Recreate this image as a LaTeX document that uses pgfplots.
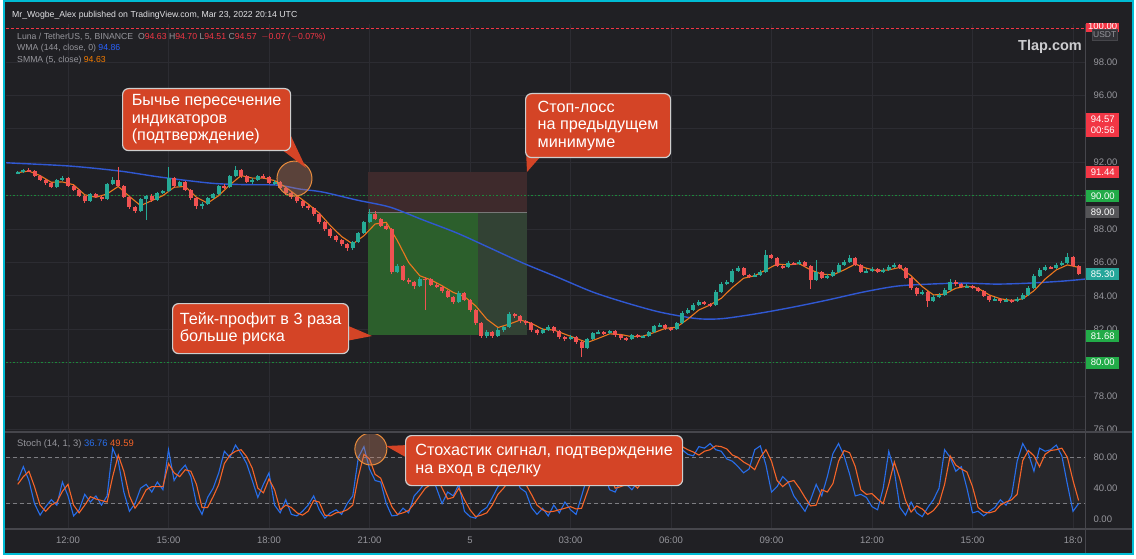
\documentclass[border=0pt]{standalone}
\usepackage{pgfplots}
\pgfplotsset{compat=1.18}
\usepackage{pgfplotstable}
\usepackage{fontspec}
\setmainfont{Liberation Sans}
\pgfplotsset{/pgf/number format/assume math mode=true}
\definecolor{bg}{RGB}{32,32,36}
\definecolor{framec}{RGB}{0,188,212}
\definecolor{gridc}{RGB}{44,44,50}
\definecolor{sepc}{RGB}{70,70,76}
\definecolor{lblc}{RGB}{150,150,156}
\definecolor{headc}{RGB}{225,225,228}
\definecolor{upc}{RGB}{38,170,150}
\definecolor{dnc}{RGB}{240,82,82}
\definecolor{wmac}{RGB}{48,88,210}
\definecolor{smmac}{RGB}{236,120,30}
\definecolor{kc}{RGB}{40,110,235}
\definecolor{dc}{RGB}{245,100,40}
\definecolor{callc}{RGB}{212,68,38}
\definecolor{callb}{RGB}{205,205,205}
\definecolor{tvred}{RGB}{242,54,69}
\definecolor{tvgreen}{RGB}{34,171,72}
\definecolor{tvteal}{RGB}{38,166,154}
\definecolor{tvgray}{RGB}{85,85,88}
\definecolor{legblue}{RGB}{41,98,255}
\definecolor{legor}{RGB}{245,124,0}
\definecolor{circc}{RGB}{232,140,60}
\definecolor{circf}{RGB}{200,130,100}
\definecolor{slbox}{RGB}{62,42,44}
\definecolor{tpbox}{RGB}{44,95,44}
\definecolor{tpbox2}{RGB}{50,66,52}

\pgfplotstableread{
i o c h l
0 91.35 91.41 91.50 91.28
1 91.41 91.53 91.62 91.36
2 91.53 91.47 91.68 91.40
3 91.47 91.17 91.52 91.10
4 91.17 90.93 91.25 90.85
5 90.93 90.75 91.00 90.66
6 90.75 90.51 90.82 90.44
7 90.51 90.93 91.02 90.46
8 90.93 91.05 91.15 90.88
9 91.05 90.57 91.10 90.50
10 90.57 90.33 90.65 90.25
11 90.33 89.97 90.40 89.90
12 89.97 89.67 90.05 89.58
13 89.67 90.09 90.18 89.60
14 90.09 89.91 90.16 89.84
15 89.91 89.79 90.00 89.70
16 89.79 90.69 90.78 89.74
17 90.69 90.93 91.10 90.62
18 90.93 90.57 91.70 90.50
19 90.57 89.91 90.64 89.85
20 89.91 89.31 89.98 89.22
21 89.31 89.08 89.40 88.98
22 89.08 89.79 89.88 89.00
23 89.79 89.97 90.06 88.55
24 89.97 89.73 90.10 89.62
25 89.73 90.15 90.24 89.66
26 90.15 90.27 90.36 90.08
27 90.27 91.05 91.72 90.20
28 91.05 90.57 91.12 90.48
29 90.57 90.81 90.90 90.50
30 90.81 90.33 90.88 90.26
31 90.33 89.85 90.40 89.76
32 89.85 89.37 89.92 89.20
33 89.37 89.49 89.60 89.22
34 89.49 89.85 89.94 89.42
35 89.85 90.09 90.18 89.78
36 90.09 90.57 90.66 90.02
37 90.57 90.50 90.70 90.40
38 90.50 91.17 91.26 90.44
39 91.17 91.53 91.80 91.10
40 91.53 91.17 91.60 91.08
41 91.17 90.81 91.24 90.74
42 90.81 90.93 91.04 90.72
43 90.93 91.17 91.26 90.86
44 91.17 91.11 91.30 91.02
45 91.11 90.75 91.18 90.68
46 90.75 90.81 90.92 90.66
47 90.81 90.45 90.88 90.38
48 90.45 90.15 90.52 90.06
49 90.15 89.91 90.22 89.82
50 89.91 89.67 89.98 89.58
51 89.67 89.37 89.74 89.28
52 89.37 89.25 89.46 89.14
53 89.25 88.90 89.32 88.80
54 88.90 88.42 88.96 88.32
55 88.42 88.00 88.50 87.90
56 88.00 87.58 88.08 87.48
57 87.58 87.34 87.66 87.22
58 87.34 87.10 87.42 86.96
59 87.10 86.86 87.18 86.70
60 86.86 87.22 87.30 86.76
61 87.22 87.76 87.84 87.14
62 87.76 88.42 88.50 87.70
63 88.42 88.90 89.20 88.34
64 88.90 88.60 89.10 88.52
65 88.60 88.18 88.68 88.10
66 88.18 88.00 88.30 87.92
67 88.00 85.42 88.08 85.30
68 85.42 85.78 85.90 85.34
69 85.78 84.94 85.84 84.86
70 84.94 84.82 85.04 84.70
71 84.82 84.58 84.90 84.40
72 84.58 85.00 85.10 84.50
73 85.00 84.98 85.12 83.14
74 84.98 84.64 85.06 84.56
75 84.64 84.52 84.74 84.44
76 84.52 84.28 84.60 84.18
77 84.28 83.92 84.36 83.84
78 83.92 83.62 84.00 83.52
79 83.62 84.16 84.26 83.56
80 84.16 83.74 84.22 83.66
81 83.74 83.14 83.80 83.04
82 83.14 82.36 83.20 82.26
83 82.36 81.59 82.42 81.45
84 81.59 81.83 81.94 81.50
85 81.83 81.59 81.90 81.48
86 81.59 81.94 82.04 81.52
87 81.94 82.12 82.22 81.86
88 82.12 82.90 83.00 82.05
89 82.90 82.78 82.98 82.68
90 82.78 82.48 82.84 82.40
91 82.48 82.36 82.56 82.26
92 82.36 81.94 82.42 81.86
93 81.94 81.77 82.02 81.68
94 81.77 81.94 82.04 81.70
95 81.94 82.12 82.22 81.88
96 82.12 81.88 82.18 81.80
97 81.88 81.53 81.94 81.44
98 81.53 81.41 81.60 81.30
99 81.41 81.53 81.64 81.34
100 81.53 81.23 81.60 81.14
101 81.23 80.87 81.30 80.34
102 80.87 81.41 81.50 80.80
103 81.41 81.77 81.86 81.34
104 81.77 81.83 81.96 81.70
105 81.83 81.77 81.92 81.68
106 81.77 81.88 81.98 81.70
107 81.88 81.65 81.94 81.56
108 81.65 81.47 81.72 81.38
109 81.47 81.41 81.56 81.30
110 81.41 81.65 81.74 81.36
111 81.65 81.53 81.72 81.46
112 81.53 81.59 81.68 81.46
113 81.59 81.83 81.92 81.52
114 81.83 82.18 82.28 81.76
115 82.18 82.24 82.36 82.10
116 82.24 82.06 82.32 81.98
117 82.06 82.00 82.14 81.90
118 82.00 82.36 82.46 81.94
119 82.36 82.96 83.06 82.30
120 82.96 83.14 83.24 82.88
121 83.14 83.44 83.54 83.06
122 83.44 83.62 83.72 83.36
123 83.62 83.50 83.70 83.42
124 83.50 83.44 83.58 83.34
125 83.44 84.22 84.32 83.38
126 84.22 84.70 84.80 84.14
127 84.70 84.82 84.94 84.62
128 84.82 85.48 85.58 84.76
129 85.48 85.66 85.76 85.40
130 85.66 85.24 85.72 85.16
131 85.24 85.18 85.32 85.08
132 85.18 85.24 85.34 85.10
133 85.24 85.42 85.52 85.16
134 85.42 86.44 86.74 85.36
135 86.44 86.26 86.52 86.18
136 86.26 85.78 86.32 85.70
137 85.78 85.72 85.86 85.62
138 85.72 85.96 86.06 85.66
139 85.96 85.90 86.04 85.82
140 85.90 86.02 86.12 85.84
141 86.02 85.78 86.08 85.70
142 85.78 84.94 85.84 84.40
143 84.94 85.42 86.14 84.88
144 85.42 85.06 85.50 84.98
145 85.06 85.18 85.28 84.98
146 85.18 85.42 85.52 85.10
147 85.42 85.84 85.94 85.36
148 85.84 86.02 86.12 85.76
149 86.02 86.26 86.42 85.96
150 86.26 85.84 86.32 85.76
151 85.84 85.42 85.90 85.34
152 85.42 85.48 85.60 85.34
153 85.48 85.60 85.70 85.40
154 85.60 85.42 85.68 85.34
155 85.42 85.54 85.64 85.36
156 85.54 85.72 85.82 85.46
157 85.72 85.84 85.98 85.66
158 85.84 85.66 85.92 85.58
159 85.66 85.06 85.72 84.98
160 85.06 84.46 85.12 84.36
161 84.46 84.10 84.52 83.98
162 84.10 84.22 84.34 84.02
163 84.22 83.68 84.28 83.33
164 83.68 83.92 84.02 83.60
165 83.92 84.04 84.14 83.84
166 84.04 84.34 84.44 83.98
167 84.34 84.82 85.00 84.28
168 84.82 84.70 84.92 84.60
169 84.70 84.52 84.78 84.44
170 84.52 84.58 84.70 84.44
171 84.58 84.46 84.66 84.38
172 84.46 84.28 84.54 84.20
173 84.28 83.98 84.36 83.90
174 83.98 83.74 84.06 83.64
175 83.74 83.80 83.92 83.66
176 83.80 83.68 83.88 83.58
177 83.68 83.74 83.84 83.60
178 83.74 83.68 83.82 83.58
179 83.68 83.80 83.90 83.60
180 83.80 84.04 84.14 83.74
181 84.04 84.46 84.56 83.98
182 84.46 85.18 85.28 84.40
183 85.18 85.54 85.64 85.10
184 85.54 85.72 85.84 85.46
185 85.72 85.66 85.80 85.58
186 85.66 85.84 85.94 85.58
187 85.84 85.96 86.08 85.78
188 85.96 86.32 86.56 85.90
189 86.32 85.78 86.38 85.70
190 85.78 85.30 85.84 85.22
}\candles

\pgfplotstableread{
x p
-1.85 91.97
-1.67 91.95
0.06 91.77
1.55 91.47
2.75 91.11
4.24 90.75
5.22 90.66
6.24 90.63
6.93 90.39
7.61 90.21
8.63 89.73
9.61 89.31
10.60 88.54
11.61 87.76
12.60 86.86
13.58 85.96
14.60 85.12
15.67 84.22
16.69 83.56
17.67 83.02
18.66 82.66
19.16 82.60
19.67 82.66
20.66 82.96
21.64 83.32
22.66 83.74
23.73 84.22
24.75 84.58
25.73 84.70
26.72 84.76
27.73 84.70
28.72 84.76
29.70 84.88
30.36 85.00
}\wma

\pgfplotstableread{
i s
0 91.38
2 91.47
4 91.20
6 90.80
8 90.82
10 90.65
12 90.05
14 89.90
16 90.10
18 90.55
20 89.95
22 89.40
24 89.70
26 90.00
28 90.50
30 90.55
32 89.90
34 89.55
36 90.00
38 90.65
40 91.20
42 91.05
44 91.05
46 90.90
48 90.50
50 90.00
52 89.50
54 88.95
56 88.20
58 87.55
60 87.10
62 87.60
64 88.30
66 88.40
68 87.30
70 86.00
72 85.20
74 84.95
76 84.60
78 84.20
80 83.95
82 83.40
84 82.60
86 82.10
88 82.30
90 82.55
92 82.35
94 82.00
96 81.95
98 81.70
100 81.45
102 81.20
104 81.45
106 81.72
108 81.68
110 81.55
112 81.58
114 81.80
116 82.05
118 82.12
120 82.60
122 83.15
124 83.45
126 83.85
128 84.50
130 85.05
132 85.20
134 85.55
136 85.90
138 85.85
140 85.92
142 85.55
144 85.30
146 85.25
148 85.55
150 85.90
152 85.65
154 85.50
156 85.55
158 85.70
160 85.20
162 84.55
164 84.05
166 84.10
168 84.45
170 84.58
172 84.45
174 84.05
176 83.82
178 83.72
180 83.82
182 84.30
184 85.00
186 85.55
188 85.85
190 85.70
}\smma

\pgfplotstableread{
i k d
0 50 45
1 68 55
2 50 62
3 20 42
4 5 18
5 16 10
6 25 18
7 18 22
8 48 36
9 30 45
10 4 18
11 12 8
12 32 18
13 22 29
14 30 26
15 18 24
16 30 22
17 92 55
18 75 83
19 35 62
20 10 30
21 20 14
22 40 24
23 45 38
24 35 42
25 48 42
26 38 42
27 90 72
28 50 60
29 62 55
30 70 64
31 55 62
32 20 45
33 6 15
34 28 15
35 40 29
36 60 45
37 88 72
38 80 83
39 96 88
40 85 90
41 72 81
42 50 66
43 28 40
44 45 34
45 60 52
46 18 38
47 8 12
48 25 18
49 6 15
50 4 8
51 10 5
52 18 10
53 30 24
54 12 22
55 1 5
56 8 4
57 12 8
58 6 9
59 20 12
60 30 18
61 80 55
62 94 84
63 65 78
64 50 58
65 48 53
66 20 34
67 4 16
68 5 6
69 14 8
70 8 11
71 30 20
72 38 30
73 48 40
74 60 45
75 40 55
76 20 40
77 35 26
78 30 28
79 45 40
80 10 25
81 3 12
82 1 3
83 10 5
84 15 8
85 28 18
86 42 32
87 48 40
88 62 50
89 58 62
90 40 55
91 35 45
92 15 32
93 6 18
94 14 12
95 4 9
96 18 10
97 8 12
98 22 14
99 12 16
100 6 13
101 30 14
102 55 35
103 70 55
104 75 68
105 60 72
106 38 58
107 35 40
108 50 42
109 45 45
110 38 47
111 48 40
112 62 50
113 70 60
114 80 68
115 88 75
116 95 82
117 92 88
118 97 92
119 90 94
120 84 90
121 82 87
122 94 83
123 92 88
124 98 90
125 90 95
126 88 94
127 78 91
128 75 83
129 68 80
130 60 74
131 65 70
132 90 64
133 95 80
134 70 90
135 35 75
136 42 50
137 55 42
138 48 48
139 30 50
140 20 40
141 10 28
142 25 17
143 45 18
144 30 38
145 55 35
146 85 46
147 98 75
148 82 89
149 58 86
150 30 68
151 32 38
152 28 32
153 16 33
154 12 26
155 40 20
156 88 45
157 62 74
158 15 52
159 5 24
160 22 9
161 8 17
162 3 13
163 15 6
164 25 11
165 40 20
166 90 45
167 80 82
168 62 70
169 68 65
170 40 61
171 8 42
172 10 15
173 4 9
174 10 8
175 15 10
176 25 18
177 18 22
178 30 25
179 75 32
180 98 76
181 85 89
182 62 82
183 92 68
184 88 84
185 90 89
186 96 90
187 82 92
188 45 80
189 10 50
190 20 24
}\stoch

\begin{document}
\begin{tikzpicture}
\fill[white] (0,0) rectangle (1136pt,558pt);
\fill[bg] (4pt,4.5pt) rectangle (1132.5pt,556.5pt);
\draw[framec, line width=2pt] (4pt,4.5pt) rectangle (1132.5pt,556.5pt);

% ---------------- main price pane ----------------
\begin{axis}[
  at={(6pt,126pt)}, anchor=south west, scale only axis,
  width=1079pt, height=408pt,
  xmin=-1.851, xmax=30.358, ymin=75.84, ymax=100.28,
  axis line style={draw=none}, major tick length=0pt,
  xtick={0,3,...,30}, xticklabels={},
  ytick={76,78,82,84,86,88,92,96,98}, yticklabel pos=right,
  extra y ticks={80,90,94}, extra y tick labels={},
  extra tick style={grid=major, major grid style={draw=gridc, line width=0.7pt}, major tick length=0pt},
  yticklabel style={font=\fontsize{9.5}{10}\selectfont, text=lblc, xshift=5pt},
  yticklabel={\pgfmathprintnumber[fixed,fixed zerofill,precision=2]{\tick}},
  grid=major, major grid style={draw=gridc, line width=0.7pt},
]
% trade boxes
\fill[slbox] (axis cs:8.955,89.00) rectangle (axis cs:13.70,91.44);
\fill[tpbox] (axis cs:8.955,81.68) rectangle (axis cs:12.24,89.00);
\fill[tpbox2] (axis cs:12.24,81.68) rectangle (axis cs:13.70,89.00);
\draw[color={rgb,255:red,120;green,120;blue,120}, line width=0.8pt] (axis cs:8.955,89.00) -- (axis cs:13.70,89.00);
% price lines
\draw[tvred, line width=0.8pt, dash pattern=on 3pt off 2pt] (axis cs:-1.851,100) -- (axis cs:30.358,100);
\draw[tvgreen!80!black, line width=0.8pt, dash pattern=on 1.5pt off 2pt] (axis cs:-1.851,90) -- (axis cs:30.358,90);
\draw[tvgreen!80!black, line width=0.8pt, dash pattern=on 1.5pt off 2pt] (axis cs:-1.851,80) -- (axis cs:30.358,80);
% indicator lines
\addplot[wmac, line width=1.4pt, smooth, mark=none] table[x=x, y=p] {\wma};
\addplot[smmac, line width=1.1pt, mark=none] table[x expr=-1.5+\thisrow{i}/6, y=s] {\smma};
% candles: wicks
\addplot[draw=none, mark=none, forget plot,
  restrict expr to domain={\thisrow{c}-\thisrow{o}}{0:100},
  error bars/.cd, y dir=both, y explicit, error mark=none,
  error bar style={draw=upc, line width=1pt}]
  table[x expr=-1.5+\thisrow{i}/6, y expr=(\thisrow{h}+\thisrow{l})/2, y error expr=(\thisrow{h}-\thisrow{l})/2] {\candles};
\addplot[draw=none, mark=none, forget plot,
  restrict expr to domain={\thisrow{c}-\thisrow{o}}{-100:-0.0001},
  error bars/.cd, y dir=both, y explicit, error mark=none,
  error bar style={draw=dnc, line width=1pt}]
  table[x expr=-1.5+\thisrow{i}/6, y expr=(\thisrow{h}+\thisrow{l})/2, y error expr=(\thisrow{h}-\thisrow{l})/2] {\candles};
% candles: bodies
\addplot[draw=none, mark=none, forget plot,
  restrict expr to domain={\thisrow{c}-\thisrow{o}}{0:100},
  error bars/.cd, y dir=both, y explicit, error mark=none,
  error bar style={draw=upc, line width=4pt}]
  table[x expr=-1.5+\thisrow{i}/6, y expr=(\thisrow{o}+\thisrow{c})/2, y error expr={max(abs(\thisrow{c}-\thisrow{o})/2,0.02)}] {\candles};
\addplot[draw=none, mark=none, forget plot,
  restrict expr to domain={\thisrow{c}-\thisrow{o}}{-100:-0.0001},
  error bars/.cd, y dir=both, y explicit, error mark=none,
  error bar style={draw=dnc, line width=4pt}]
  table[x expr=-1.5+\thisrow{i}/6, y expr=(\thisrow{o}+\thisrow{c})/2, y error expr={max(abs(\thisrow{c}-\thisrow{o})/2,0.02)}] {\candles};
% crossing circle
\draw[circc, line width=1pt, fill=circf, fill opacity=0.35] (axis cs:6.76,91.02) circle[radius=17.5pt];
\end{axis}

% ---------------- stochastic pane ----------------
\begin{axis}[
  at={(6pt,29pt)}, anchor=south west, scale only axis,
  width=1079pt, height=95pt,
  xmin=-1.851, xmax=30.358, ymin=-12.99, ymax=110.39,
  axis line style={draw=none}, major tick length=0pt,
  xtick={0,3,...,30},
  xticklabels={12:00,15:00,18:00,21:00,5,03:00,06:00,09:00,12:00,15:00,18:0},
  xticklabel style={font=\fontsize{9.5}{10}\selectfont, text=lblc, yshift=-4pt},
  ytick={0,40,80}, yticklabel pos=right,
  yticklabel style={font=\fontsize{9.5}{10}\selectfont, text=lblc, xshift=5pt},
  yticklabel={\pgfmathprintnumber[fixed,fixed zerofill,precision=2]{\tick}},
  xmajorgrids, major grid style={draw=gridc, line width=0.7pt},
]
\fill[white, opacity=0.035] (axis cs:-1.851,20) rectangle (axis cs:30.358,80);
\draw[color={rgb,255:red,125;green,125;blue,130}, line width=0.7pt, dash pattern=on 4pt off 3pt] (axis cs:-1.851,80) -- (axis cs:30.358,80);
\draw[color={rgb,255:red,125;green,125;blue,130}, line width=0.7pt, dash pattern=on 4pt off 3pt] (axis cs:-1.851,20) -- (axis cs:30.358,20);
\addplot[kc, line width=1.1pt, mark=none] table[x expr=-1.5+\thisrow{i}/6, y=k] {\stoch};
\addplot[dc, line width=1.1pt, mark=none] table[x expr=-1.5+\thisrow{i}/6, y=d] {\stoch};
\draw[circc, line width=1pt, fill=circf, fill opacity=0.35] (axis cs:9.04,90.9) circle[radius=16pt];
\end{axis}

% ---------------- overlays in pixel coordinates ----------------
\begin{scope}[x=1pt, y=-1pt, shift={(0pt,558pt)}]
% separators
\draw[sepc, line width=1.3pt] (5,432) -- (1131.5,432);
\draw[sepc, line width=1.3pt] (5,529) -- (1131.5,529);
\draw[sepc, line width=1pt] (1085,24) -- (1085,553);
% header and legend
\node[anchor=west, inner sep=0pt, text=headc, font=\fontsize{8.7}{10}\selectfont] at (12,15) {Mr\_Wogbe\_Alex published on TradingView.com, Mar 23, 2022 20:14 UTC};
\node[anchor=west, inner sep=0pt, font=\fontsize{8.7}{10}\selectfont] at (17,37) {\textcolor{lblc}{Luna / TetherUS, 5, BINANCE\ \ O}\textcolor{tvred}{94.63}\ \textcolor{lblc}{H}\textcolor{tvred}{94.70}\ \textcolor{lblc}{L}\textcolor{tvred}{94.51}\ \textcolor{lblc}{C}\textcolor{tvred}{94.57\ \ $-$0.07 ($-$0.07\%)}};
\node[anchor=west, inner sep=0pt, font=\fontsize{8.7}{10}\selectfont] at (17,48.5) {\textcolor{lblc}{WMA (144, close, 0)}\ \textcolor{legblue}{94.86}};
\node[anchor=west, inner sep=0pt, font=\fontsize{8.7}{10}\selectfont] at (17,60) {\textcolor{lblc}{SMMA (5, close)}\ \textcolor{legor}{94.63}};
\node[anchor=west, inner sep=0pt, font=\fontsize{9.4}{10}\selectfont] at (17,444) {\textcolor{lblc}{Stoch (14, 1, 3)}\ \textcolor{kc}{36.76}\ \textcolor{dc}{49.59}};
\node[anchor=east, inner sep=0pt, text={rgb,255:red,205;green,205;blue,208}, font=\bfseries\fontsize{14.5}{16}\selectfont] at (1082,47) {Tlap.com};
% price labels on the right scale
\begin{scope}
\clip (1085,24) rectangle (1133,60);
\node[anchor=west, inner sep=0pt, fill=tvred, text=white, minimum width=33pt, minimum height=12pt, font=\fontsize{9.5}{10}\selectfont] at (1086,26) {100.00};
\end{scope}
\node[anchor=west, inner sep=0pt, fill={rgb,255:red,50;green,50;blue,55}, draw={rgb,255:red,70;green,70;blue,75}, text=lblc, minimum width=25pt, minimum height=11pt, font=\fontsize{8.5}{10}\selectfont] at (1092,35) {USDT};
\node[anchor=west, inner sep=0pt, fill=tvred, text=white, minimum width=33pt, minimum height=24pt, align=center, font=\fontsize{9.5}{11}\selectfont] at (1086,125) {94.57\\00:56};
\node[anchor=west, inner sep=0pt, fill=tvred, text=white, minimum width=33pt, minimum height=12pt, font=\fontsize{9.5}{10}\selectfont] at (1086,172.5) {91.44};
\node[anchor=west, inner sep=0pt, fill=tvgreen, text=white, minimum width=33pt, minimum height=12pt, font=\fontsize{9.5}{10}\selectfont] at (1086,196) {90.00};
\node[anchor=west, inner sep=0pt, fill=tvgray, text=white, minimum width=33pt, minimum height=12pt, font=\fontsize{9.5}{10}\selectfont] at (1086,212.5) {89.00};
\node[anchor=west, inner sep=0pt, fill=tvteal, text=white, minimum width=33pt, minimum height=12pt, font=\fontsize{9.5}{10}\selectfont] at (1086,274) {85.30};
\node[anchor=west, inner sep=0pt, fill=tvgreen, text=white, minimum width=33pt, minimum height=12pt, font=\fontsize{9.5}{10}\selectfont] at (1086,336) {81.68};
\node[anchor=west, inner sep=0pt, fill=tvgreen, text=white, minimum width=33pt, minimum height=12pt, font=\fontsize{9.5}{10}\selectfont] at (1086,362.5) {80.00};
% callout pointers
\fill[callc] (281,149) -- (290,134) -- (306,168) -- cycle;
\fill[callc] (526,150) -- (541,156) -- (527,172) -- cycle;
\fill[callc] (346,325) -- (346,341) -- (372,336) -- cycle;
\fill[callc] (409,445) -- (409,459) -- (386,446) -- cycle;
% callouts
\tikzset{callout/.style={anchor=north west, fill=callc, draw=callb, line width=1.2pt, rounded corners=6pt, text=white, align=left, inner xsep=4pt, inner ysep=2pt, font=\fontsize{16.2}{17.5}\selectfont}}
\node[callout, minimum width=168pt, minimum height=62pt] at (122,88) {Бычье пересечение\\индикаторов\\(подтверждение)};
\node[callout, minimum width=145pt, minimum height=64pt] at (525,93) {Стоп-лосс\\на предыдущем\\минимуме};
\node[callout, minimum width=176pt, minimum height=50pt] at (172,303) {Тейк-профит в 3 раза\\больше риска};
\node[callout, minimum width=277pt, minimum height=50pt] at (405,435) {Стохастик сигнал, подтверждение\\на вход в сделку};
\end{scope}
\pgfresetboundingbox
\path[use as bounding box] (0,0) rectangle (1136pt,558pt);
\end{tikzpicture}
\end{document}
